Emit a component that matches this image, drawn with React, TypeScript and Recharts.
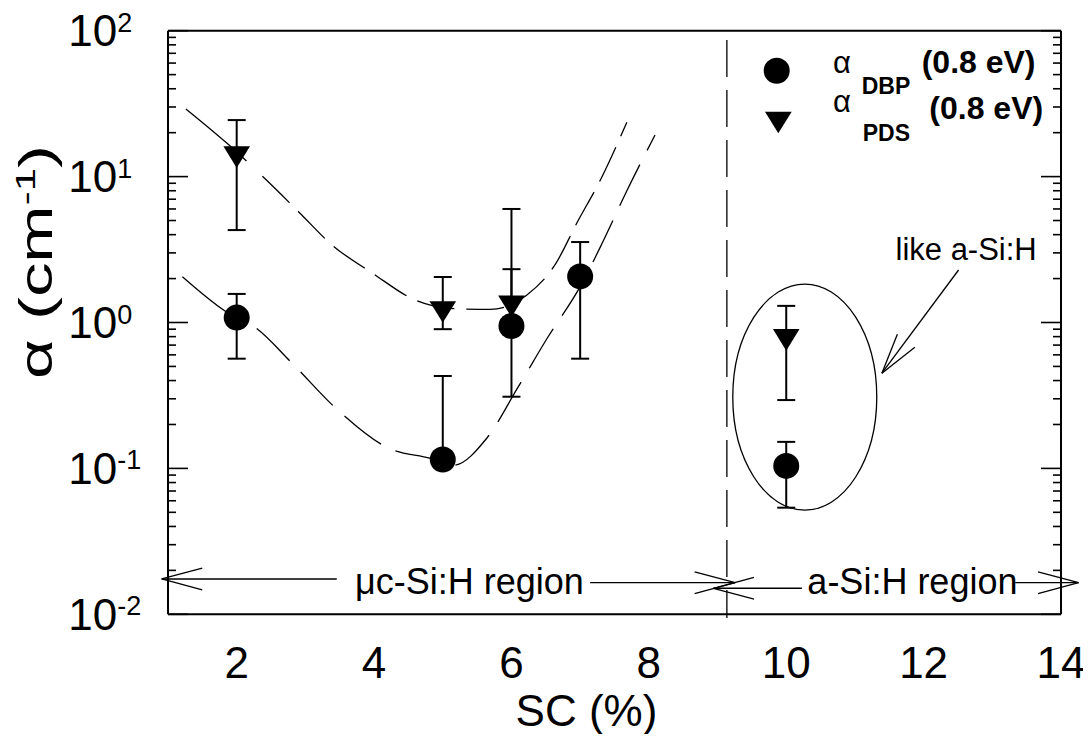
import React from 'react';
import { ComposedChart, XAxis, YAxis, Scatter, Line, ErrorBar, ReferenceLine, ReferenceDot, Legend } from 'recharts';

const FONT = '"Liberation Sans", Arial, Helvetica, sans-serif';

// ---- data ----
const scDBP = [2, 5, 6, 7, 10];
const alphaDBP = [1.08, 0.115, 0.946, 2.07, 0.104];
const dbpLower = [0.565, 0.105, 0.31, 0.565, 0.0538];
const dbpUpper = [1.57, 0.43, 2.32, 3.56, 0.152];

const scPDS = [2, 5, 6, 10];
const alphaPDS = [13.6, 1.18, 1.29, 0.76];
const pdsLower = [4.3, 0.9, 1.0, 0.294];
const pdsUpper = [24.4, 2.05, 6.0, 1.3];

const upperFitX = [1.26, 1.86, 2.44, 2.9, 3.4, 3.97, 4.62, 5.1, 5.69, 6.22, 6.64, 6.95, 7.3, 7.68];
const upperFitY = [29.1, 16.9, 9.4, 5.75, 3.36, 2.19, 1.41, 1.25, 1.23, 1.54, 2.51, 4.79, 9.6, 23.6];

const lowerFitX = [1.21, 1.83, 2.29, 2.8, 3.46, 4.22, 4.82, 5.15, 5.64, 6.1, 6.52, 7.0, 7.32, 7.68, 8.09];
const lowerFitY = [2.06, 1.2, 0.91, 0.53, 0.254, 0.137, 0.117, 0.105, 0.161, 0.363, 0.78, 1.76, 3.49, 8.0, 19.3];

const xMajorTicks = [2, 4, 6, 8, 10, 12, 14];
const xMinorTicks = [1.2, 1.6, 2.4, 2.8, 3.2, 3.6, 4.4, 4.8, 5.2, 5.6, 6.4, 6.8, 7.2, 7.6, 8.4, 8.8, 9.2, 9.6, 10.4, 10.8, 11.2, 11.6, 12.4, 12.8, 13.2, 13.6];
const yMajorTicks = [0.01, 0.1, 1, 10, 100];
const yMinorTicks = [
  0.02, 0.03, 0.04, 0.05, 0.06, 0.07, 0.08, 0.09,
  0.2, 0.3, 0.4, 0.5, 0.6, 0.7, 0.8, 0.9,
  2, 3, 4, 5, 6, 7, 8, 9,
  20, 30, 40, 50, 60, 70, 80, 90,
];

// annotation anchors (data coordinates)
const regionBoundary = 9.136;
const ellipseCenter = { x: 10.27, y: 0.308 };
const mcArrowLeft = [{ x: 3.457, y: 0.01746 }, { x: 0.908, y: 0.01746 }];
const mcArrowRight = [{ x: 7.145, y: 0.01647 }, { x: 9.257, y: 0.01647 }];
const aArrowLeft = [{ x: 10.228, y: 0.01508 }, { x: 8.941, y: 0.01508 }];
const aArrowRight = [{ x: 13.334, y: 0.01647 }, { x: 14.256, y: 0.01647 }];
const likeArrow = [{ x: 12.509, y: 2.29 }, { x: 11.393, y: 0.449 }];
const mcLabel = { x: 5.388, y: 0.01371, text: 'μc-Si:H region' };
const aLabel = { x: 11.837, y: 0.01371, text: 'a-Si:H region' };
const likeLabel = { x: 12.619, y: 2.682, text: 'like a-Si:H' };

// ---- tables built from the arrays ----
const dbpData = scDBP.map((x, i) => ({ x, y: alphaDBP[i], err: [alphaDBP[i] - dbpLower[i], dbpUpper[i] - alphaDBP[i]] }));
const pdsData = scPDS.map((x, i) => ({ x, y: alphaPDS[i], err: [alphaPDS[i] - pdsLower[i], pdsUpper[i] - alphaPDS[i]] }));
const upperFit = upperFitX.map((x, i) => ({ x, y: upperFitY[i] }));
const lowerFit = lowerFitX.map((x, i) => ({ x, y: lowerFitY[i] }));

const dashUpper = ['80 22', ...Array(30).fill('38 12')].join(' ');
const dashLower = ['75 16', ...Array(30).fill('46 16')].join(' ');

const Empty = () => <g />;

const XTick = (props: any) => {
  const { x, y, payload } = props;
  return (
    <text x={x} y={y + 64} textAnchor="middle" fontFamily={FONT} fontSize={44} fill="#000">
      {payload.value}
    </text>
  );
};

const YTick = (props: any) => {
  const { x, y, payload } = props;
  const exp = Math.round(Math.log10(payload.value));
  return (
    <text x={x - 99.7} y={y + 15.5} textAnchor="start" fontFamily={FONT} fontSize={44} fill="#000">
      10
      <tspan dy={-14.5} fontSize={27}>{exp}</tspan>
    </text>
  );
};

const XLabel = (props: any) => {
  const vb = props.viewBox || { x: 160, y: 606.3 };
  return (
    <text x={vb.x + 418.5} y={vb.y + 112} textAnchor="middle" fontFamily={FONT} fontSize={44} fill="#000">
      SC (%)
    </text>
  );
};

const YLabel = (props: any) => {
  const vb = props.viewBox || { x: 0, y: 22.7 };
  const cx = vb.x + 44;
  const cy = 254;
  return (
    <text
      transform={`translate(${cx}, ${cy}) rotate(-90)`}
      textAnchor="middle"
      fontFamily={FONT}
      fontSize={46}
      fill="#000"
      textLength={234}
      lengthAdjust="spacingAndGlyphs"
    >
      α (cm
      <tspan dy={-17} fontSize={28}>-1</tspan>
      <tspan dy={17}>)</tspan>
    </text>
  );
};

const circleShape = (p: any) => <circle cx={p.cx} cy={p.cy} r={13} fill="#000" />;
const triangleShape = (p: any) => (
  <polygon
    points={`${p.cx - 13.3},${p.cy - 10.8} ${p.cx + 13.3},${p.cy - 10.8} ${p.cx},${p.cy + 10.8}`}
    fill="#000"
  />
);

const arrowShape = (p: any) => {
  const { x1, y1, x2, y2 } = p;
  const ang = Math.atan2(y1 - y2, x1 - x2);
  const L = 42;
  const a = (15 * Math.PI) / 180;
  return (
    <g stroke="#000" strokeWidth={1.3} fill="none">
      <line x1={x1} y1={y1} x2={x2} y2={y2} />
      <line x1={x2} y1={y2} x2={x2 + L * Math.cos(ang + a)} y2={y2 + L * Math.sin(ang + a)} />
      <line x1={x2} y1={y2} x2={x2 + L * Math.cos(ang - a)} y2={y2 + L * Math.sin(ang - a)} />
    </g>
  );
};

const textShape = (text: string, size: number) => (p: any) => (
  <text x={p.cx} y={p.cy} textAnchor="middle" fontFamily={FONT} fontSize={size} fill="#000">
    {text}
  </text>
);

const ellipseShape = (p: any) => (
  <ellipse cx={p.cx} cy={p.cy} rx={72} ry={113} fill="none" stroke="#000" strokeWidth={1.3} />
);

const LegendBox = () => (
  <svg width={320} height={110} style={{ overflow: 'visible', display: 'block' }} fontFamily={FONT}>
    <circle cx={28.7} cy={22.7} r={13} fill="#000" />
    <text x={85} y={24.7} fontSize={31} fill="#000">α</text>
    <text x={113.7} y={46.3} fontSize={23} fontWeight="bold" fill="#000">DBP</text>
    <text x={173.7} y={24.7} fontSize={32} fontWeight="bold" fill="#000">(0.8 eV)</text>
    <polygon points="17,63.7 43.7,63.7 30.3,85.3" fill="#000" />
    <text x={85} y={63.7} fontSize={31} fill="#000">α</text>
    <text x={114.7} y={93} fontSize={23} fontWeight="bold" fill="#000">PDS</text>
    <text x={181.3} y={71.3} fontSize={32} fontWeight="bold" fill="#000">(0.8 eV)</text>
  </svg>
);

const axisStroke = { stroke: '#000', strokeWidth: 2 };
const tickStroke = { stroke: '#000', strokeWidth: 1.6 };
const THIN = 0.01;

export default function App() {
  return (
    <div style={{ width: 1075, height: 726, background: '#fff' }}>
      <style>{'svg.recharts-surface { overflow: visible; }'}</style>
      <ComposedChart width={1075} height={726} margin={{ top: 22.7, right: 22, bottom: 19.7, left: 0 }}>
        <XAxis
          type="number"
          dataKey="x"
          domain={[1, 14]}
          allowDataOverflow
          ticks={xMajorTicks}
          interval={0}
          orientation="bottom"
          height={100}
          tickLine={false}
          tickSize={0}
          tickMargin={0}
          axisLine={axisStroke}
          tick={XTick}
          label={XLabel}
        />
        <XAxis xAxisId="xbMaj" type="number" domain={[1, 14]} allowDataOverflow ticks={xMajorTicks} interval={0} orientation="bottom" mirror height={THIN} tickSize={20} tickLine={tickStroke} axisLine={false} tick={Empty} />
        <XAxis xAxisId="xbMin" type="number" domain={[1, 14]} allowDataOverflow ticks={xMinorTicks} interval={0} orientation="bottom" mirror height={THIN} tickSize={8} tickLine={tickStroke} axisLine={false} tick={Empty} />
        <XAxis xAxisId="xtMaj" type="number" domain={[1, 14]} allowDataOverflow ticks={xMajorTicks} interval={0} orientation="top" mirror height={THIN} tickSize={20} tickLine={tickStroke} axisLine={axisStroke} tick={Empty} />
        <XAxis xAxisId="xtMin" type="number" domain={[1, 14]} allowDataOverflow ticks={xMinorTicks} interval={0} orientation="top" mirror height={THIN} tickSize={8} tickLine={tickStroke} axisLine={false} tick={Empty} />

        <YAxis
          type="number"
          dataKey="y"
          scale="log"
          domain={[0.01, 100]}
          allowDataOverflow
          ticks={yMajorTicks}
          interval={0}
          width={160}
          tickLine={false}
          tickSize={0}
          tickMargin={0}
          axisLine={axisStroke}
          tick={YTick}
          label={YLabel}
        />
        <YAxis yAxisId="ylMaj" type="number" scale="log" domain={[0.01, 100]} allowDataOverflow ticks={yMajorTicks} interval={0} orientation="left" mirror width={THIN} tickSize={20} tickLine={tickStroke} axisLine={false} tick={Empty} />
        <YAxis yAxisId="ylMin" type="number" scale="log" domain={[0.01, 100]} allowDataOverflow ticks={yMinorTicks} interval={0} orientation="left" mirror width={THIN} tickSize={8} tickLine={tickStroke} axisLine={false} tick={Empty} />
        <YAxis yAxisId="yrMaj" type="number" scale="log" domain={[0.01, 100]} allowDataOverflow ticks={yMajorTicks} interval={0} orientation="right" mirror width={THIN} tickSize={20} tickLine={tickStroke} axisLine={axisStroke} tick={Empty} />
        <YAxis yAxisId="yrMin" type="number" scale="log" domain={[0.01, 100]} allowDataOverflow ticks={yMinorTicks} interval={0} orientation="right" mirror width={THIN} tickSize={8} tickLine={tickStroke} axisLine={false} tick={Empty} />

        <ReferenceLine
          segment={[{ x: regionBoundary, y: 86.3 }, { x: regionBoundary, y: 0.00944 }]}
          ifOverflow="visible"
          stroke="#000"
          strokeWidth={1.3}
          strokeDasharray="37 13"
        />

        <Line data={upperFit} dataKey="y" type="monotone" dot={false} activeDot={false} stroke="#000" strokeWidth={1.3} strokeDasharray={dashUpper} isAnimationActive={false} legendType="none" />
        <Line data={lowerFit} dataKey="y" type="monotone" dot={false} activeDot={false} stroke="#000" strokeWidth={1.3} strokeDasharray={dashLower} isAnimationActive={false} legendType="none" />

        <Scatter name="DBP" data={dbpData} shape={circleShape} isAnimationActive={false}>
          <ErrorBar dataKey="err" direction="y" width={9} stroke="#000" strokeWidth={2} />
        </Scatter>
        <Scatter name="PDS" data={pdsData} shape={triangleShape} isAnimationActive={false}>
          <ErrorBar dataKey="err" direction="y" width={9} stroke="#000" strokeWidth={2} />
        </Scatter>

        <ReferenceDot x={ellipseCenter.x} y={ellipseCenter.y} shape={ellipseShape} ifOverflow="visible" />

        <ReferenceLine segment={mcArrowLeft} ifOverflow="visible" shape={arrowShape} />
        <ReferenceLine segment={mcArrowRight} ifOverflow="visible" shape={arrowShape} />
        <ReferenceLine segment={aArrowLeft} ifOverflow="visible" shape={arrowShape} />
        <ReferenceLine segment={aArrowRight} ifOverflow="visible" shape={arrowShape} />
        <ReferenceLine segment={likeArrow} ifOverflow="visible" shape={arrowShape} />

        <ReferenceDot x={mcLabel.x} y={mcLabel.y} ifOverflow="visible" shape={textShape(mcLabel.text, 36)} />
        <ReferenceDot x={aLabel.x} y={aLabel.y} ifOverflow="visible" shape={textShape(aLabel.text, 36)} />
        <ReferenceDot x={likeLabel.x} y={likeLabel.y} ifOverflow="visible" shape={textShape(likeLabel.text, 31)} />

        <Legend
          layout="vertical"
          align="center"
          verticalAlign="middle"
          content={LegendBox}
          wrapperStyle={{ left: 740, top: 40, width: 320, height: 110 }}
        />
      </ComposedChart>
    </div>
  );
}
